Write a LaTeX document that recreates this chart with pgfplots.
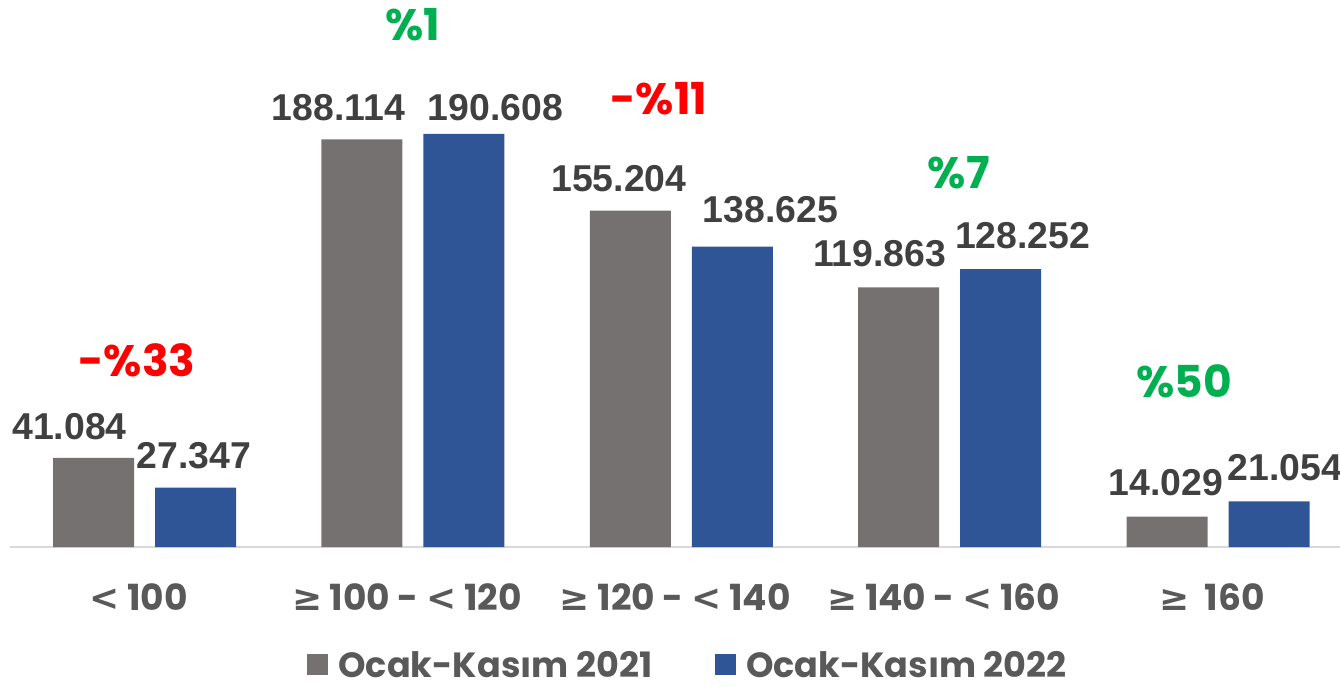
\documentclass[border=0pt]{standalone}
\usepackage{pgfplots}
\pgfplotsset{compat=1.18}
\usepackage{pgfplotstable}
\usepackage{fontspec}
\setmainfont{Liberation Sans}
\newfontfamily\pop{Poppins}
\newfontfamily\dejavu{DejaVu Sans}
\newcommand{\gsym}{{\dejavu\bfseries ≥}}
\newcommand{\lsym}{{\dejavu\bfseries <}}

\definecolor{barGray}{HTML}{767171}
\definecolor{barBlue}{HTML}{2F5597}
\definecolor{valText}{HTML}{404040}
\definecolor{catText}{HTML}{595959}
\definecolor{pctRed}{HTML}{FF0000}
\definecolor{pctGreen}{HTML}{00B050}
\definecolor{baseLine}{HTML}{D9D9D9}

% x y dx dy  (dx, dy: label offsets in pt)
\pgfplotstableread{
x y dx dy
0 41084 -12 15.5
1 188114 -11.75 15.75
2 155204 -5.75 16.25
3 119863 -9.5 17
4 14029 -0.5 16.75
}\dataA
\pgfplotstableread{
x y dx dy
0 27347 -0.75 16.25
1 190608 15.75 13.25
2 138625 19 18.5
3 128252 11 16.5
4 21054 7.75 16.75
}\dataB

\begin{document}
\begin{tikzpicture}
\path[use as bounding box] (0,0) rectangle (670pt,343.5pt);
\begin{axis}[
  at={(5.15pt,70pt)}, anchor=south west,
  scale only axis,
  width=664.85pt, height=273.5pt,
  xmin=-0.5, xmax=4.454,
  ymin=0, ymax=252423,
  ybar, bar width=40.5pt,
  axis y line=none,
  axis x line*=bottom,
  x axis line style={draw=baseLine, line width=1pt, -},
  xtick={0,1,2,3,4},
  xticklabels={\lsym{} 100, \gsym{} 100 - \lsym{} 120, \gsym{} 120 - \lsym{} 140, \gsym{} 140 - \lsym{} 160, \gsym{}\ \ 160},
  xtick style={draw=none},
  xticklabel style={anchor=center, yshift=-21pt, xshift=-3pt,
    font=\pop\bfseries\fontsize{18}{20}\selectfont, text=catText},
  clip=false,
  nodes near coords={\pgfmathprintnumber[fixed, precision=0, 1000 sep={.}, assume math mode=true]{\pgfplotspointmeta}},
  nodes near coords align={center},
  point meta=y,
  visualization depends on={\thisrow{dx} \as \dx},
  visualization depends on={\thisrow{dy} \as \dy},
  every node near coord/.append style={anchor=center, inner sep=0pt,
    xshift=\dx pt, yshift=\dy pt,
    font=\bfseries\fontsize{18.7}{20}\selectfont, text=valText},
  legend image code/.code={\fill[#1] (0pt,-5.25pt) rectangle (10.5pt,5.25pt);},
  legend style={at={(0.509,-0.215)}, anchor=center, draw=none, fill=none,
    legend columns=2,
    font=\pop\bfseries\fontsize{17.5}{19}\selectfont, text=catText,
    nodes={inner sep=0pt, text depth=0pt},
    /tikz/every odd column/.append style={column sep=5pt},
    /tikz/every even column/.append style={column sep=31.5pt}},
]
\addplot[fill=barGray, draw=none, bar shift=-25.5pt] table[x=x, y=y] {\dataA};
\addlegendentry{Ocak-Kasım 2021}
\addplot[fill=barBlue, draw=none, bar shift=25.5pt] table[x=x, y=y] {\dataB};
\addlegendentry{Ocak-Kasım 2022}

\begin{scope}[every node/.style={inner sep=0pt, font=\pop\bfseries\fontsize{22}{24}\selectfont}]
\node[text=pctRed] at (axis cs:-0.028,86295) {-\%33};
\node[text=pctGreen] at (axis cs:1.0,241117) {\%1};
\node[text=pctRed] at (axis cs:1.916,206968) {-\%11};
\node[text=pctGreen] at (axis cs:3.034,172820) {\%7};
\node[text=pctGreen] at (axis cs:3.873,76373) {\%50};
\end{scope}
\end{axis}
\end{tikzpicture}
\end{document}
